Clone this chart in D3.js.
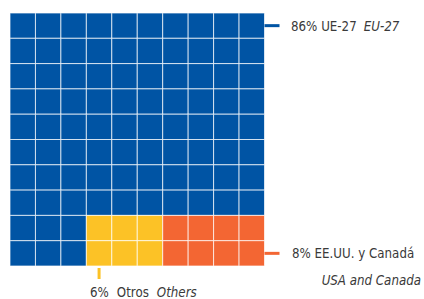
<!DOCTYPE html>
<html>
  <head>
    <meta charset="utf-8">
    <title>Waffle</title>
    <script src="https://cdn.jsdelivr.net/npm/d3@7"></script>
    <style>
      body { margin: 0; background: #fff; }
      text { font-family: "DejaVu Sans Condensed", "DejaVu Sans", sans-serif; font-size: 13.2px; fill: #3a3a3a; }
    </style>
  </head>
  <body>
    <div></div>
    <script>
      var categories = ["UE-27", "Otros", "EE.UU. y Canadá"]
      var englishNames = ["EU-27", "Others", "USA and Canada"]
      var values = [86, 6, 8]
      var colors = ["#0054a4", "#fcc226", "#f36633"]

      var width = 424, height = 299
      var svg = d3.select("div").append("svg").attr("width", width).attr("height", height)

      var idx = d3.range(10)
      var x = d3.scaleBand().domain(idx).range([10, 264.5])
      var y = d3.scaleBand().domain(idx).range([13, 266])

      // top 8 rows fill row by row, last 2 rows fill column by column
      var cells = []
      for (var r = 0; r < 8; r++) for (var c = 0; c < 10; c++) cells.push({row: r, col: c})
      for (var c = 0; c < 10; c++) for (var r = 8; r < 10; r++) cells.push({row: r, col: c})
      var k = 0
      values.forEach((v, i) => { for (var j = 0; j < v; j++) cells[k++].cat = i })

      svg.selectAll("rect.cell").data(cells).enter().append("rect")
        .attr("class", "cell")
        .attr("x", d => x(d.col)).attr("y", d => y(d.row))
        .attr("width", x.bandwidth()).attr("height", y.bandwidth())
        .attr("fill", d => colors[d.cat])
        .attr("stroke", "#ffffff").attr("stroke-opacity", 0.7).attr("stroke-width", 1)

      // leader ticks and labels
      var right = x.range()[1]
      // EU-27
      svg.append("line").attr("x1", right).attr("x2", right + 15)
        .attr("y1", y(0) + y.bandwidth() / 2).attr("y2", y(0) + y.bandwidth() / 2)
        .attr("stroke", colors[0]).attr("stroke-width", 3)
      var t0 = svg.append("text").attr("x", 291).attr("y", y(0) + y.bandwidth() / 2 + 5)
      t0.append("tspan").text(values[0] + "% " + categories[0])
      t0.append("tspan").attr("dx", 7).style("font-style", "italic").text(englishNames[0])

      // USA and Canada
      var yo = y(9) + y.bandwidth() / 2
      svg.append("line").attr("x1", right).attr("x2", right + 15)
        .attr("y1", yo).attr("y2", yo)
        .attr("stroke", colors[2]).attr("stroke-width", 3)
      svg.append("text").attr("x", 292).attr("y", yo + 5).text(values[2] + "% " + categories[2])
      svg.append("text").attr("x", 421).attr("y", yo + 32).attr("text-anchor", "end")
        .style("font-style", "italic").text(englishNames[2])

      // Others
      var xo = x(3) + x.bandwidth() / 2
      svg.append("line").attr("x1", xo).attr("x2", xo)
        .attr("y1", 268).attr("y2", 279)
        .attr("stroke", colors[1]).attr("stroke-width", 3)
      var t1 = svg.append("text").attr("x", 90).attr("y", 297)
      t1.append("tspan").text(values[1] + "%")
      t1.append("tspan").attr("dx", 8).text(categories[1])
      t1.append("tspan").attr("dx", 8).style("font-style", "italic").text(englishNames[1])
    </script>
  </body>
</html>
